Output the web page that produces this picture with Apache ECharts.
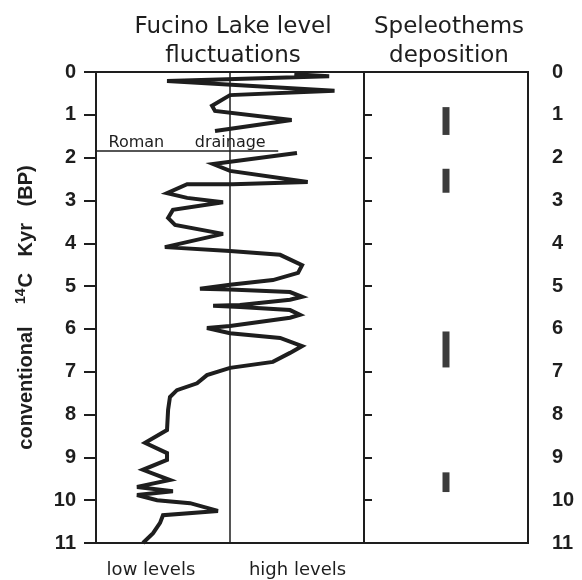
<!DOCTYPE html>
<html>
<head>
<meta charset="utf-8">
<script src="https://cdn.jsdelivr.net/npm/echarts@6/dist/echarts.min.js"></script>
<style>
  html, body { margin: 0; padding: 0; background: #fff; }
  #chart { width: 582px; height: 580px; }
</style>
</head>
<body>
<div id="chart"></div>
<script>
// lake level curve: 0 = lowest, 100 = highest (50 is the divider)
const levelX = [74, 87, 26.5, 89, 50, 43.3, 44.4, 73, 44.4, null,
    75, 43.7, 50, 79, 51, 34, 26.5, 34, 47.4, 28.7,
    26.9, 29.5, 47.4, 25.7, 50, 68.7, 76.9, 75.4, 66, 50,
    38.8, 50, 72.4, 76.9, 72.4, 53.7, 43.7, 53.7, 72.4, 76.1,
    72.4, 50, 41.4, 50, 68.7, 76.9, 72.4, 66, 50, 41.4,
    37.7, 30.2, 27.6, 26.9, 26.5, 18.3, 26.5, 26.5, 17.5, 27.6,
    15.3, 28.7, 15.3, 22.8, 35.1, 45.5, 25, 23.9, 21.3, 17.5];
const levelAge = [0.05, 0.1, 0.21, 0.44, 0.54, 0.79, 0.91, 1.12, 1.38, null,
    1.89, 2.15, 2.31, 2.57, 2.62, 2.62, 2.83, 2.94, 3.04, 3.22,
    3.41, 3.57, 3.78, 4.09, 4.18, 4.27, 4.51, 4.69, 4.86, 4.97,
    5.06, 5.08, 5.14, 5.25, 5.32, 5.44, 5.46, 5.49, 5.56, 5.67,
    5.74, 5.93, 5.98, 6.1, 6.21, 6.4, 6.56, 6.77, 6.91, 7.08,
    7.27, 7.43, 7.59, 7.89, 8.36, 8.66, 8.9, 9.06, 9.29, 9.53,
    9.69, 9.79, 9.88, 10.0, 10.07, 10.25, 10.35, 10.53, 10.77, 11.0];

// speleothem deposition intervals (kyr BP)
const speleoStart = [0.82, 2.26, 6.06, 9.35];
const speleoEnd = [1.47, 2.82, 6.9, 9.81];

const levelLabels = ['low levels', 'high levels'];
const romanDrainageAge = 1.85;

const chart = echarts.init(document.getElementById('chart'));

const ink = '#1e1e1e';
const titleFont = { fontFamily: 'DejaVu Sans', fontSize: 23, color: ink, fontWeight: 'normal', lineHeight: 29, align: 'center' };
const tickFont = { fontFamily: 'Liberation Sans', fontSize: 20, fontWeight: 'bold', color: ink };

const curveData = levelX.map((x, i) => (x === null ? '-' : [x, levelAge[i]]));
const speleoData = speleoStart.map((s, i) => [50, s, speleoEnd[i]]);

chart.setOption({
    backgroundColor: '#fff',
    animation: false,
    title: [
        { text: 'Fucino Lake level\nfluctuations', left: 228, top: 8, textAlign: 'center', textStyle: titleFont },
        { text: 'Speleothems\ndeposition', left: 444, top: 8, textAlign: 'center', textStyle: titleFont }
    ],
    grid: [
        { left: 96, right: 218, top: 72, bottom: 37, show: true, borderColor: ink, borderWidth: 2, backgroundColor: 'transparent' },
        { left: 364, right: 54, top: 72, bottom: 37, show: true, borderColor: ink, borderWidth: 2, backgroundColor: 'transparent' }
    ],
    xAxis: [
        {
            gridIndex: 0, type: 'value', min: 0, max: 100, interval: 50,
            axisLine: { show: false },
            axisTick: { show: false },
            axisLabel: {
                customValues: [20.5, 75.2],
                formatter: (v) => (v < 50 ? levelLabels[0] : levelLabels[1]),
                margin: 18,
                fontFamily: 'DejaVu Sans', fontSize: 18, color: ink
            },
            splitLine: { show: true, lineStyle: { color: ink, width: 1.5 } }
        },
        {
            gridIndex: 1, type: 'value', min: 0, max: 100, show: false
        }
    ],
    yAxis: [
        {
            gridIndex: 0, type: 'value', inverse: true, min: 0, max: 11, interval: 1,
            axisLine: { show: true, lineStyle: { color: ink, width: 2 } },
            axisTick: { show: true, length: 12, lineStyle: { color: ink, width: 2 } },
            axisLabel: Object.assign({ margin: 20 }, tickFont),
            splitLine: { show: false },
            name: 'conventional    {sup|14}C   Kyr   (BP)',
            nameLocation: 'middle',
            nameGap: 57,
            nameTextStyle: {
                fontFamily: 'Liberation Sans', fontSize: 20, fontWeight: 'bold', color: ink,
                rich: {
                    sup: { fontFamily: 'Liberation Sans', fontSize: 14, fontWeight: 'bold', color: ink, padding: [0, 1, 11, 0] }
                }
            }
        },
        {
            gridIndex: 1, type: 'value', inverse: true, min: 0, max: 11, interval: 1,
            position: 'right', offset: 4,
            axisLine: { show: false },
            axisTick: { show: true, length: 8, lineStyle: { color: ink, width: 2 } },
            axisLabel: Object.assign({ margin: 20 }, tickFont),
            splitLine: { show: false }
        }
    ],
    series: [
        {
            name: 'lake level',
            type: 'line',
            xAxisIndex: 0, yAxisIndex: 0,
            data: curveData,
            symbol: 'none',
            connectNulls: false,
            lineStyle: { color: ink, width: 4, join: 'miter', miterLimit: 4 },
            markLine: {
                silent: true,
                symbol: 'none',
                lineStyle: { color: ink, width: 1.5, type: 'solid' },
                label: {
                    show: true,
                    position: 'insideMiddleTop',
                    distance: 0,
                    formatter: 'Roman      drainage',
                    fontFamily: 'DejaVu Sans', fontSize: 16, color: ink
                },
                data: [[{ coord: [0, romanDrainageAge] }, { coord: [68, romanDrainageAge] }]]
            }
        },
        {
            name: 'speleothems',
            type: 'custom',
            xAxisIndex: 1, yAxisIndex: 1,
            data: speleoData,
            encode: { x: 0, y: [1, 2] },
            renderItem: (params, api) => {
                const top = api.coord([api.value(0), api.value(1)]);
                const bottom = api.coord([api.value(0), api.value(2)]);
                return {
                    type: 'rect',
                    shape: { x: top[0] - 3.5, y: top[1], width: 7, height: bottom[1] - top[1] },
                    style: { fill: '#3c3c3c' }
                };
            }
        }
    ]
});
</script>
</body>
</html>
